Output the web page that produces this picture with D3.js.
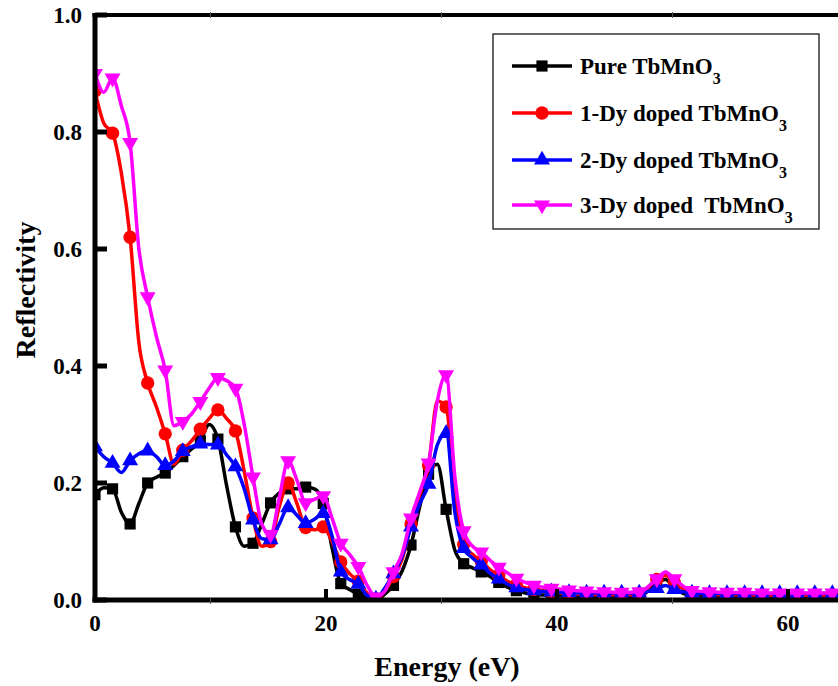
<!DOCTYPE html>
<html>
<head>
<meta charset="utf-8">
<script src="https://cdn.jsdelivr.net/npm/d3@7"></script>
<style>
  body { margin: 0; background: #fff; }
  text { font-family: "Liberation Serif", "Times New Roman", serif; font-weight: bold; fill: #000; }
</style>
</head>
<body>
<div id="chart"></div>
<script>
// Energy grid (eV) shared by all four curves
const energy = [0, 0.76, 1.52, 2.28, 3.04, 3.80, 4.56, 5.32, 6.08, 6.84, 7.60, 8.36, 9.12, 9.88,
  10.64, 11.40, 12.16, 12.92, 13.68, 14.44, 15.20, 15.96, 16.72, 17.48, 18.24, 19.00, 19.76,
  20.52, 21.28, 22.04, 22.80, 23.56, 24.32, 25.08, 25.84, 26.60, 27.36, 28.12, 28.88, 29.64,
  30.40, 31.16, 31.92, 32.68, 33.44, 34.20, 34.96, 35.72, 36.48, 37.24, 38.00, 39.52, 41.04,
  42.56, 44.08, 45.60, 47.12, 48.64, 49.40, 50.16, 51.68, 53.20, 54.72, 56.24, 57.76, 59.28,
  60.80, 62.32, 63.84];

const pure = [0.180, 0.192, 0.190, 0.150, 0.130, 0.165, 0.200, 0.210, 0.217, 0.230, 0.245, 0.258,
  0.272, 0.300, 0.275, 0.195, 0.125, 0.092, 0.097, 0.130, 0.166, 0.183, 0.190, 0.190, 0.193,
  0.190, 0.165, 0.090, 0.028, 0.018, 0.010, 0.004, 0.000, 0.010, 0.025, 0.050, 0.094, 0.160,
  0.215, 0.232, 0.155, 0.085, 0.062, 0.055, 0.048, 0.040, 0.030, 0.022, 0.016, 0.012, 0.010,
  0.008, 0.006, 0.005, 0.004, 0.004, 0.005, 0.030, 0.035, 0.020, 0.008, 0.006, 0.005, 0.005,
  0.005, 0.005, 0.004, 0.004, 0.004];

const dy1 = [0.870, 0.815, 0.798, 0.730, 0.620, 0.440, 0.371, 0.330, 0.284, 0.232, 0.256, 0.272,
  0.292, 0.310, 0.325, 0.310, 0.289, 0.220, 0.140, 0.092, 0.100, 0.160, 0.200, 0.165, 0.124,
  0.120, 0.125, 0.100, 0.065, 0.045, 0.032, 0.012, 0.002, 0.015, 0.040, 0.070, 0.130, 0.180,
  0.230, 0.340, 0.330, 0.180, 0.095, 0.078, 0.066, 0.052, 0.042, 0.032, 0.026, 0.021, 0.018,
  0.014, 0.011, 0.010, 0.009, 0.009, 0.010, 0.035, 0.042, 0.030, 0.012, 0.010, 0.009, 0.009,
  0.008, 0.008, 0.008, 0.008, 0.008];

const dy2 = [0.262, 0.245, 0.234, 0.218, 0.238, 0.250, 0.255, 0.245, 0.230, 0.238, 0.254, 0.262,
  0.267, 0.266, 0.265, 0.248, 0.228, 0.190, 0.137, 0.105, 0.103, 0.130, 0.158, 0.145, 0.131,
  0.138, 0.148, 0.110, 0.048, 0.035, 0.027, 0.008, 0.002, 0.020, 0.045, 0.075, 0.125, 0.165,
  0.198, 0.265, 0.285, 0.150, 0.088, 0.072, 0.060, 0.046, 0.036, 0.027, 0.021, 0.018, 0.016,
  0.014, 0.013, 0.012, 0.012, 0.012, 0.012, 0.020, 0.025, 0.018, 0.012, 0.011, 0.011, 0.011,
  0.011, 0.011, 0.011, 0.011, 0.011];

const dy3 = [0.900, 0.868, 0.892, 0.845, 0.782, 0.600, 0.518, 0.450, 0.393, 0.298, 0.305, 0.318,
  0.339, 0.362, 0.380, 0.375, 0.362, 0.300, 0.210, 0.130, 0.112, 0.175, 0.238, 0.205, 0.166,
  0.172, 0.178, 0.140, 0.097, 0.078, 0.057, 0.025, 0.005, 0.015, 0.048, 0.080, 0.140, 0.185,
  0.234, 0.340, 0.385, 0.210, 0.118, 0.092, 0.082, 0.068, 0.056, 0.046, 0.037, 0.030, 0.025,
  0.020, 0.017, 0.015, 0.014, 0.013, 0.014, 0.036, 0.048, 0.036, 0.016, 0.014, 0.013, 0.013,
  0.012, 0.012, 0.012, 0.012, 0.012];

const seriesNames = ["Pure TbMnO", "1-Dy doped TbMnO", "2-Dy doped TbMnO", "3-Dy doped  TbMnO"];
const seriesColors = ["#000000", "#ff0000", "#0000ff", "#ff00ff"];
const xTicks = [0, 20, 40, 60];
const yTicks = [0, 0.2, 0.4, 0.6, 0.8, 1.0];

const width = 838, height = 686;
const plotL = 95, plotT = 15, plotR = 838, plotB = 600;

const svg = d3.select("#chart").append("svg")
  .attr("width", width)
  .attr("height", height);

const x = d3.scaleLinear().domain([0, 64.33]).range([plotL, plotR]);
const y = d3.scaleLinear().domain([0, 1]).range([plotB, plotT]);

svg.append("clipPath").attr("id", "plot")
  .append("rect").attr("x", plotL).attr("y", plotT).attr("width", plotR - plotL).attr("height", plotB - plotT);

// markers sit on every 1.52 eV step
const isMarker = e => Math.abs(e / 1.52 - Math.round(e / 1.52)) < 0.01;

const symbols = [
  d3.symbol().type(d3.symbolSquare).size(125),
  d3.symbol().type(d3.symbolCircle).size(140),
  d3.symbol().type(d3.symbolTriangle).size(110),
  d3.symbol().type(d3.symbolTriangle).size(110)
];
const symRotate = [0, 0, 0, 180];

const line = d3.line()
  .x(d => x(d[0]))
  .y(d => y(d[1]))
  .curve(d3.curveMonotoneX);

const plot = svg.append("g").attr("clip-path", "url(#plot)");

[pure, dy1, dy2, dy3].forEach((vals, k) => {
  const pts = energy.map((e, i) => [e, vals[i]]);
  plot.append("path")
    .datum(pts)
    .attr("d", line)
    .attr("fill", "none")
    .attr("stroke", seriesColors[k])
    .attr("stroke-width", 3.5);
  plot.selectAll(null)
    .data(pts.filter(p => isMarker(p[0])))
    .enter()
    .append("path")
    .attr("d", symbols[k])
    .attr("transform", d => `translate(${x(d[0])},${y(d[1])}) rotate(${symRotate[k]})`)
    .attr("fill", seriesColors[k]);
});

// frame: left, top and bottom lines
svg.append("line").attr("x1", plotL).attr("x2", plotL).attr("y1", plotT - 2).attr("y2", plotB + 2.5)
  .attr("stroke", "#000").attr("stroke-width", 5);
svg.append("line").attr("x1", plotL - 2.5).attr("x2", plotR).attr("y1", plotT).attr("y2", plotT)
  .attr("stroke", "#000").attr("stroke-width", 4);
svg.append("line").attr("x1", plotL - 2.5).attr("x2", plotR).attr("y1", plotB).attr("y2", plotB)
  .attr("stroke", "#000").attr("stroke-width", 5);

// inward major ticks
svg.selectAll(null).data(yTicks).enter().append("line")
  .attr("x1", plotL).attr("x2", plotL + 12)
  .attr("y1", d => y(d)).attr("y2", d => y(d))
  .attr("stroke", "#000").attr("stroke-width", 5);
svg.selectAll(null).data(xTicks.slice(1)).enter().append("line")
  .attr("x1", d => x(d)).attr("x2", d => x(d))
  .attr("y1", plotB).attr("y2", plotB - 11)
  .attr("stroke", "#000").attr("stroke-width", 4);
// small minor ticks
svg.selectAll(null).data([10, 30, 50]).enter().append("line")
  .attr("x1", d => x(d)).attr("x2", d => x(d))
  .attr("y1", plotB - 2).attr("y2", plotB + 4)
  .attr("stroke", "#555").attr("stroke-width", 1);
svg.selectAll(null).data([10, 30, 50]).enter().append("line")
  .attr("x1", d => x(d)).attr("x2", d => x(d))
  .attr("y1", plotT - 3).attr("y2", plotT + 3)
  .attr("stroke", "#555").attr("stroke-width", 1);

// tick labels
svg.selectAll(null).data(yTicks).enter().append("text")
  .attr("x", 82).attr("y", d => y(d) + 8)
  .attr("text-anchor", "end")
  .style("font-size", "23px")
  .text(d => d.toFixed(1));
svg.selectAll(null).data(xTicks).enter().append("text")
  .attr("x", d => x(d)).attr("y", 631)
  .attr("text-anchor", "middle")
  .style("font-size", "23px")
  .text(d => d);

// axis titles
svg.append("text")
  .attr("x", 447).attr("y", 676)
  .attr("text-anchor", "middle")
  .style("font-size", "28px")
  .text("Energy (eV)");
svg.append("text")
  .attr("transform", "translate(35,290) rotate(-90)")
  .attr("text-anchor", "middle")
  .style("font-size", "28px")
  .text("Reflectivity");

// legend
const legend = svg.append("g");
legend.append("rect")
  .attr("x", 493).attr("y", 34).attr("width", 326).attr("height", 195)
  .attr("fill", "#fff").attr("stroke", "#000").attr("stroke-width", 1.2);
const legendY = [66, 113, 160, 205];
seriesNames.forEach((name, k) => {
  const ly = legendY[k];
  legend.append("line")
    .attr("x1", 512).attr("x2", 572).attr("y1", ly).attr("y2", ly)
    .attr("stroke", seriesColors[k]).attr("stroke-width", 3.5);
  legend.append("path")
    .attr("d", symbols[k])
    .attr("transform", `translate(542,${ly}) rotate(${symRotate[k]})`)
    .attr("fill", seriesColors[k]);
  const t = legend.append("text")
    .attr("x", 580).attr("y", ly + 8)
    .attr("xml:space", "preserve")
    .style("white-space", "pre")
    .style("font-size", "23px");
  t.append("tspan").text(name);
  t.append("tspan").attr("dy", 10).style("font-size", "16px").text("3");
});
</script>
</body>
</html>
